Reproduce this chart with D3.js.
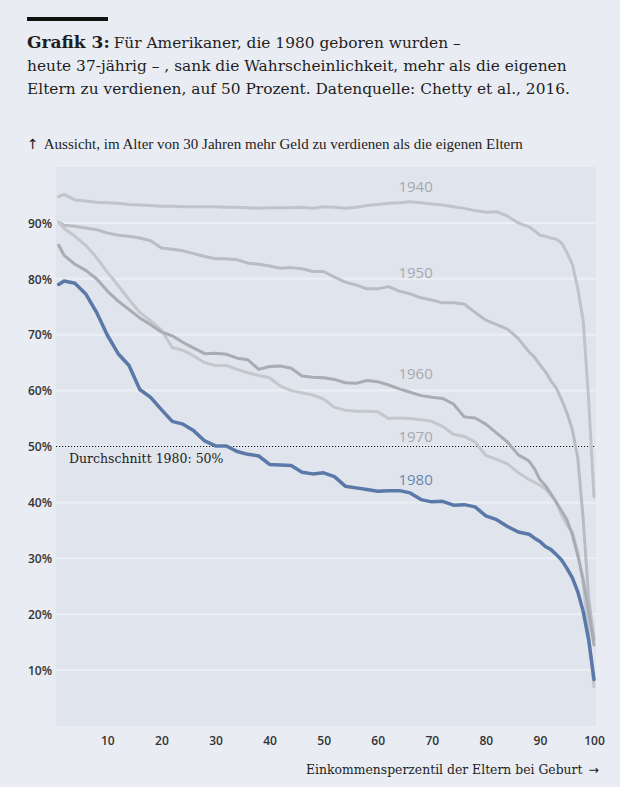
<!DOCTYPE html>
<html>
<head>
<meta charset="utf-8">
<script src="https://cdn.jsdelivr.net/npm/d3@7"></script>
<style>
body { margin: 0; background: #e9ecf3; }
</style>
</head>
<body>
<svg id="chart" width="620" height="787"></svg>
<script>
// Einkommensperzentil der Eltern (x) und Anteil in % (y)
var percentiles = [1,2,4,6,8,10,12,14,16,18,20,22,24,26,28,30,32,34,36,38,40,42,44,46,48,50,
  52,54,56,58,60,62,64,66,68,70,72,74,76,78,80,82,84,86,88,89,90,91,92,93,94,95,96,97,98,99,100];
var cohorts = ["1940","1950","1960","1970","1980"];
var share1940 = [94.7,95.1,94.1,93.9,93.7,93.6,93.5,93.3,93.2,93.1,93.0,93.0,92.9,92.9,92.9,92.9,92.8,92.8,92.7,92.6,
  92.7,92.7,92.7,92.8,92.6,92.9,92.8,92.6,92.8,93.1,93.3,93.5,93.6,93.8,93.6,93.4,93.2,92.9,92.6,92.2,
  91.9,92.0,91.2,90.0,89.3,88.6,87.8,87.6,87.3,87.1,86.4,84.7,82.6,78.3,72.5,58.5,41.0];
var share1950 = [90.1,89.6,89.4,89.1,88.8,88.2,87.8,87.6,87.3,86.8,85.5,85.3,85.0,84.5,84.0,83.6,83.6,83.4,82.8,82.6,
  82.3,81.9,82.0,81.8,81.3,81.3,80.3,79.4,78.9,78.2,78.2,78.6,77.8,77.3,76.6,76.2,75.7,75.7,75.5,74.0,
  72.6,71.8,71.0,69.3,66.9,66.0,64.6,63.4,61.8,60.5,58.4,56.0,53.0,48.0,37.0,23.0,15.5];
var share1960 = [86.0,84.2,82.6,81.5,80.0,77.8,76.0,74.5,73.0,71.8,70.5,69.8,68.6,67.6,66.6,66.7,66.5,65.8,65.5,63.8,
  64.3,64.4,64.0,62.6,62.4,62.3,62.0,61.4,61.3,61.8,61.6,61.0,60.3,59.7,59.1,58.8,58.6,57.6,55.3,55.1,
  54.0,52.4,50.8,48.5,47.4,46.0,44.1,43.0,41.6,40.0,38.5,36.9,34.2,30.5,26.2,20.5,14.5];
var share1970 = [90.1,89.0,87.6,86.0,83.8,81.2,78.8,76.3,74.0,72.5,70.8,67.7,67.2,66.2,65.0,64.5,64.5,63.8,63.2,62.7,
  62.3,60.8,60.0,59.6,59.2,58.5,57.0,56.5,56.3,56.3,56.2,55.0,55.1,55.0,54.8,54.5,53.6,52.2,51.8,50.8,
  48.4,47.7,46.9,45.3,44.1,43.6,43.1,42.4,41.3,40.2,37.8,36.0,34.7,31.1,25.5,16.5,7.0];
var share1980 = [79.0,79.6,79.2,77.3,74.0,69.9,66.6,64.5,60.2,58.8,56.6,54.5,54.0,52.8,51.0,50.1,50.1,49.1,48.6,48.3,
  46.8,46.7,46.6,45.4,45.1,45.3,44.6,42.9,42.6,42.3,42.0,42.1,42.1,41.7,40.5,40.1,40.2,39.5,39.6,39.2,
  37.6,36.9,35.7,34.7,34.3,33.6,33.0,32.1,31.6,30.7,29.7,28.2,26.5,24.0,20.5,15.5,8.3];
var yTicks = [10,20,30,40,50,60,70,80,90];
var xTicks = [10,20,30,40,50,60,70,80,90,100];
var average1980 = 50;
// wo die Jahrgangsbeschriftungen stehen (Perzentil, Wert)
var labelPercentile = 67;
var labelValues = [96.5, 81.1, 63.1, 51.8, 44.1];

var series = [share1940, share1950, share1960, share1970, share1980];
var lineColors = ["#c0c3c9","#b9bcc2","#a9acb2","#c4c7cc","#5a79a8"];
var labelColors = ["#a6a9af","#a6a9af","#a6a9af","#a6a9af","#6a86b3"];
var drawOrder = [0,1,3,2,4];

var svg = d3.select("#chart");
var x = d3.scaleLinear().domain([0.5,100]).range([56,594]);
var y = d3.scaleLinear().domain([0,100]).range([726,167]);

svg.append("rect").attr("width",620).attr("height",787).attr("fill","#e9ecf3");

// Titel
svg.append("rect").attr("x",27).attr("y",17).attr("width",81).attr("height",4).attr("fill","#111");
var title = svg.append("text").attr("x",27).attr("y",48)
  .style("font-family","DejaVu Serif").style("font-size","15.4px").attr("fill","#1e1e1e");
title.append("tspan").style("font-weight","bold").style("font-size","17px").text("Grafik 3:");
title.append("tspan").attr("dx",4).text("Für Amerikaner, die 1980 geboren wurden –");
svg.append("text").attr("x",27).attr("y",71)
  .style("font-family","DejaVu Serif").style("font-size","15.4px").attr("fill","#1e1e1e")
  .text("heute 37-jährig – , sank die Wahrscheinlichkeit, mehr als die eigenen");
svg.append("text").attr("x",27).attr("y",94)
  .style("font-family","DejaVu Serif").style("font-size","15.4px").attr("fill","#1e1e1e")
  .text("Eltern zu verdienen, auf 50 Prozent. Datenquelle: Chetty et al., 2016.");

var yTitle = svg.append("text").attr("x",27).attr("y",149)
  .style("font-family","Liberation Serif").style("font-size","15px").attr("fill","#1e1e1e");
yTitle.append("tspan").style("font-family","DejaVu Sans").style("font-size","14px").text("↑");
yTitle.append("tspan").attr("dx",5).text("Aussicht, im Alter von 30 Jahren mehr Geld zu verdienen als die eigenen Eltern");

// Plotfläche
svg.append("rect").attr("x",x.range()[0]).attr("y",y.range()[1])
  .attr("width",x.range()[1]-x.range()[0]+2).attr("height",y.range()[0]-y.range()[1])
  .attr("fill","#e0e4ec");

svg.append("g").selectAll("line").data(yTicks).enter().append("line")
  .attr("x1",x.range()[0]).attr("x2",x.range()[1]+2)
  .attr("y1",function(d){return y(d);}).attr("y2",function(d){return y(d);})
  .attr("stroke","#eceff5").attr("stroke-width",2);

// Achsen
var yAxis = svg.append("g").attr("transform","translate(52,0)")
  .call(d3.axisLeft(y).tickValues(yTicks).tickSize(0).tickPadding(0).tickFormat(function(d){return d+"%";}));
var xAxis = svg.append("g").attr("transform","translate(0,736)")
  .call(d3.axisBottom(x).tickValues(xTicks).tickSize(0).tickPadding(0));
[yAxis, xAxis].forEach(function(a){
  a.select(".domain").remove();
  a.selectAll("text").style("font-family","Open Sans").style("font-size","12px")
    .style("font-weight","600").attr("fill","#333");
});
yAxis.selectAll("text").attr("dy","0.35em");
xAxis.selectAll("text").attr("dy","0.71em");

var xTitle = svg.append("text").attr("x",306).attr("y",774)
  .style("font-family","DejaVu Serif").style("font-size","12.4px").attr("fill","#1e1e1e");
xTitle.append("tspan").text("Einkommensperzentil der Eltern bei Geburt");
xTitle.append("tspan").attr("dx",6).style("font-family","DejaVu Sans").text("→");

// Durchschnitt
svg.append("line").attr("x1",x.range()[0]).attr("x2",x.range()[1]+2)
  .attr("y1",y(average1980)).attr("y2",y(average1980))
  .attr("stroke","#111").attr("stroke-width",1.2).attr("stroke-dasharray","1.2,1.8");
svg.append("text").attr("x",69).attr("y",y(average1980)+16)
  .style("font-family","DejaVu Serif").style("font-size","12.5px").attr("fill","#1e1e1e")
  .text("Durchschnitt 1980: 50%");

// Linien
var line = d3.line()
  .x(function(d,i){return x(percentiles[i]);})
  .y(function(d){return y(d);});

drawOrder.forEach(function(k){
  svg.append("path").datum(series[k])
    .attr("d",line).attr("fill","none")
    .attr("stroke",lineColors[k]).attr("stroke-width",k==4 ? 3.5 : 3)
    .attr("stroke-linejoin","round").attr("stroke-linecap","round");
});

svg.append("g").selectAll("text").data(cohorts).enter().append("text")
  .attr("x",x(labelPercentile)).attr("y",function(d,i){return y(labelValues[i]);})
  .attr("text-anchor","middle").attr("dy","0.35em")
  .style("font-family","Open Sans").style("font-size","15px")
  .attr("fill",function(d,i){return labelColors[i];})
  .text(function(d){return d;});
</script>
</body>
</html>
